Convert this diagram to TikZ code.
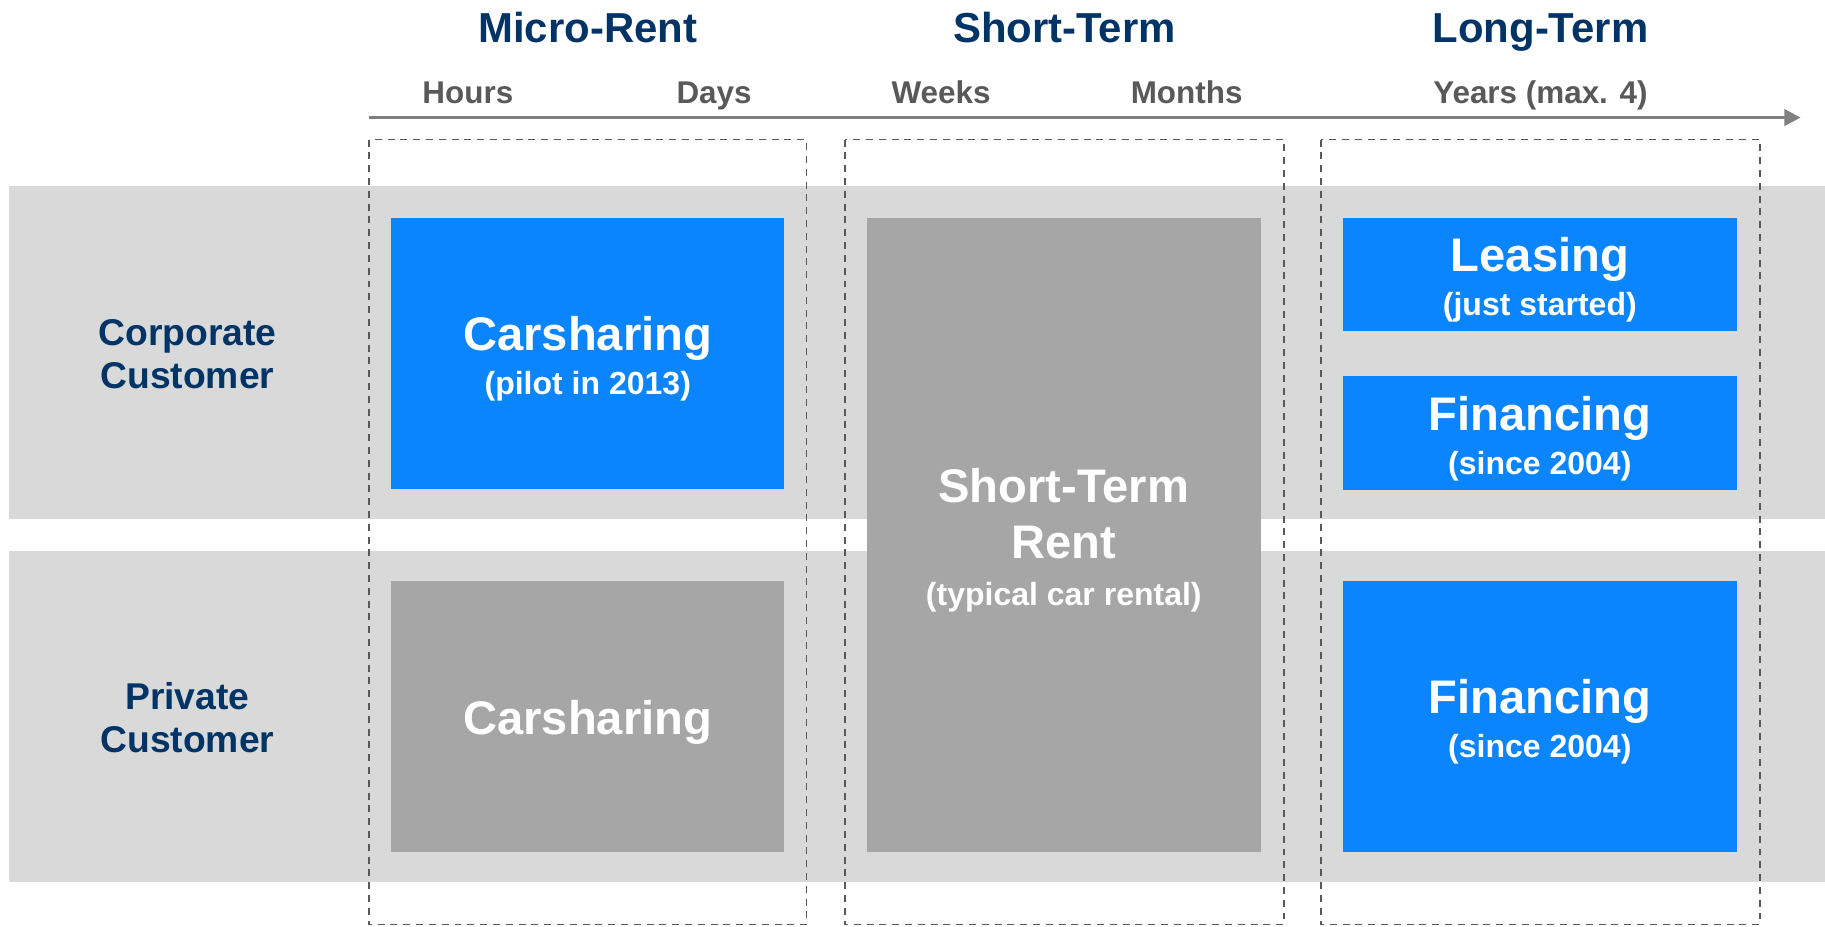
\documentclass[tikz,border=0pt]{standalone}
\usepackage{fontspec}
\setmainfont{Liberation Sans}
\usepackage{xcolor}
\usetikzlibrary{arrows.meta,positioning}

\definecolor{titleblue}{RGB}{0,51,102}
\definecolor{scalegray}{RGB}{89,89,89}
\definecolor{axisgray}{RGB}{128,128,128}
\definecolor{bandgray}{RGB}{217,217,217}
\definecolor{boxgray}{RGB}{166,166,166}
\definecolor{boxblue}{RGB}{11,133,254}

\newcommand{\bigline}[1]{{\fontsize{40.5}{48}\selectfont #1}}
\newcommand{\headline}[1]{{\fontsize{40.5}{48}\selectfont\rule{0pt}{39pt}#1}}

\begin{document}
\begin{tikzpicture}[
    x=1pt, y=-1pt,
    title/.style={anchor=base, text=titleblue, font=\fontsize{36}{40}\selectfont\bfseries},
    scale label/.style={anchor=base, text=scalegray, font=\fontsize{27}{32}\selectfont\bfseries},
    row label/.style={text=titleblue, align=center, font=\fontsize{32}{37}\selectfont\bfseries},
    band/.style={fill=bandgray},
    frame/.style={draw=scalegray, line width=1.2pt, dash pattern=on 6pt off 5pt},
    box/.style={rectangle, inner sep=0pt, minimum width=338, text=white, align=center,
        font=\fontsize{27.5}{37.5}\selectfont\bfseries},
    offer/.style={box, fill=boxblue},
    other/.style={box, fill=boxgray}
]
    \useasboundingbox (0,0) rectangle (1568,795.6);

    % customer rows
    \fill[band] (8,160) rectangle (1568,446);
    \fill[band] (8,473) rectangle (1568,758);

    % time axis
    \node[title] (microrent) at (505,36.5) {Micro-Rent};
    \node[title] (shortterm) at (914.5,36.5) {Short-Term};
    \node[title] (longterm) at (1323.5,36.5) {Long-Term};

    \node[scale label] (hours) at (402,89) {Hours};
    \node[scale label] (days) at (613.5,89) {Days};
    \node[scale label] (weeks) at (808.5,89) {Weeks};
    \node[scale label] (months) at (1019.5,89) {Months};
    \node[scale label] (years) at (1323.5,89) {Years (max. 4)};

    \coordinate (axisstart) at (317,101);
    \coordinate (axisend) at (1547,101);
    \draw[axisgray, line width=2.9pt, -{Triangle[length=14pt,width=14pt]}] (axisstart) -- (axisend);

    % product groups
    \draw[frame] (317,120) rectangle (693,794.5);
    \draw[frame] (726,120) rectangle (1103,794.5);
    \draw[frame] (1135,120) rectangle (1512,794.5);

    \node[row label] (corporate) at (161,304) {Corporate\\Customer};
    \node[row label] (private) at (161,617) {Private\\Customer};

    % products
    \node[offer, minimum height=233] (carsharecorp) at (505,303.5) {\headline{Carsharing}\\(pilot in 2013)};
    \node[other, minimum height=233] (carsharepriv) at (505,615.5) {\headline{Carsharing}};
    \node[other, minimum height=545] (shortrent) at (914,459.5) {\headline{Short-Term}\\[10pt]\bigline{Rent}\\[3pt](typical car rental)};
    \node[offer, minimum height=97] (leasing) at (1323,235.5) {\headline{Leasing}\\(just started)};
    \node[offer, minimum height=98] (financecorp) at (1323,372) {\headline{Financing}\\(since 2004)};
    \node[offer, minimum height=233] (financepriv) at (1323,615.5) {\headline{Financing}\\(since 2004)};
\end{tikzpicture}
\end{document}
